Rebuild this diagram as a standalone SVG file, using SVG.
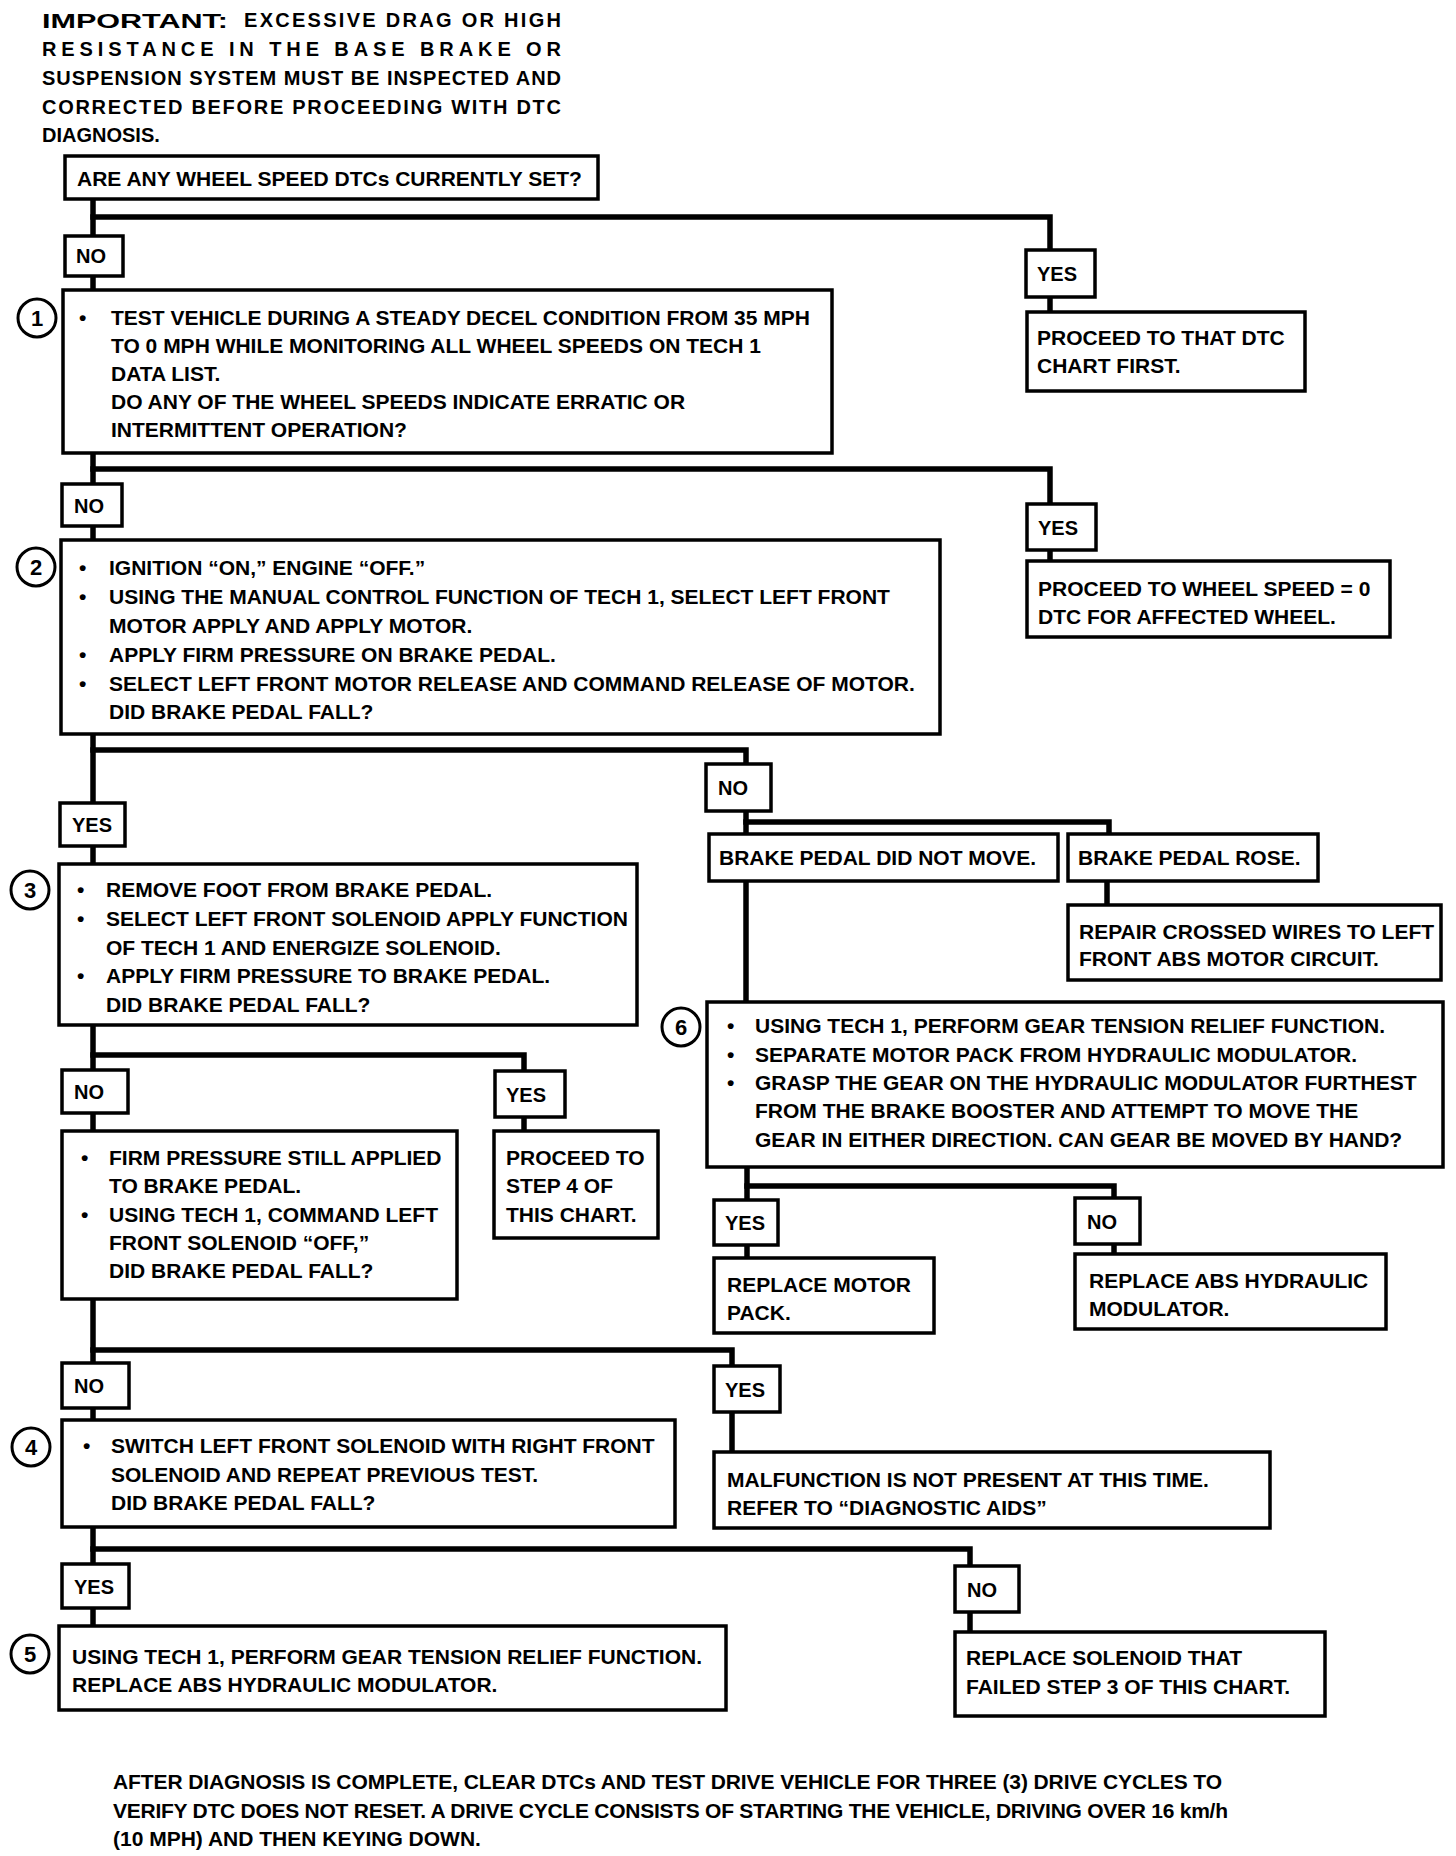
<svg xmlns="http://www.w3.org/2000/svg" width="1456" height="1856" viewBox="0 0 1456 1856">
<style>
.bg{fill:#fff}
.box{fill:#fff;stroke:#000;stroke-width:3.5}
.conn{fill:none;stroke:#000;stroke-width:5.5;stroke-linecap:square;stroke-linejoin:miter}
.num{fill:#fff;stroke:#000;stroke-width:3}
.t{font-family:"Liberation Sans",Arial,sans-serif;font-weight:bold;font-size:21px;fill:#000}
.tp{font-family:"Liberation Sans",Arial,sans-serif;font-weight:bold;font-size:20px;fill:#000}
.l{font-family:"Liberation Sans",Arial,sans-serif;font-weight:bold;font-size:20px;fill:#000}
.n{font-family:"Liberation Sans",Arial,sans-serif;font-weight:bold;font-size:22px;fill:#000;text-anchor:middle}
</style>
<rect class="bg" x="0" y="0" width="1456" height="1856"/>

<g id="note-top">
<text class="t" x="42" y="28" font-size="28" textLength="186" lengthAdjust="spacingAndGlyphs">IMPORTANT:</text>
<text class="tp" x="244" y="27" textLength="317" lengthAdjust="spacing">EXCESSIVE DRAG OR HIGH</text>
<text class="tp" x="42" y="56" textLength="519" lengthAdjust="spacing">RESISTANCE IN THE BASE BRAKE OR</text>
<text class="tp" x="42" y="85" textLength="519" lengthAdjust="spacing">SUSPENSION SYSTEM MUST BE INSPECTED AND</text>
<text class="tp" x="42" y="114" textLength="519" lengthAdjust="spacing">CORRECTED BEFORE PROCEEDING WITH DTC</text>
<text class="tp" x="42" y="142">DIAGNOSIS.</text>
</g>

<g id="connectors">
<path class="conn" d="M93 199 V236"/>
<path class="conn" d="M93 217 H1050 V250"/>
<path class="conn" d="M1050 297 V312"/>
<path class="conn" d="M93 276 V290"/>
<path class="conn" d="M93 453 V484"/>
<path class="conn" d="M93 469 H1050 V504"/>
<path class="conn" d="M1050 550 V561"/>
<path class="conn" d="M93 526 V540"/>
<path class="conn" d="M93 734 V803"/>
<path class="conn" d="M93 750 H746 V764"/>
<path class="conn" d="M746 811 V834"/>
<path class="conn" d="M746 822 H1109 V834"/>
<path class="conn" d="M1107 881 V905"/>
<path class="conn" d="M746 881 V1002"/>
<path class="conn" d="M747 1167 V1200"/>
<path class="conn" d="M747 1186 H1114 V1198"/>
<path class="conn" d="M747 1245 V1258"/>
<path class="conn" d="M1114 1244 V1254"/>
<path class="conn" d="M93 846 V864"/>
<path class="conn" d="M93 1025 V1070"/>
<path class="conn" d="M93 1055 H524 V1071"/>
<path class="conn" d="M524 1117 V1131"/>
<path class="conn" d="M93 1113 V1131"/>
<path class="conn" d="M93 1299 V1363"/>
<path class="conn" d="M93 1350 H732 V1366"/>
<path class="conn" d="M732 1412 V1452"/>
<path class="conn" d="M93 1408 V1420"/>
<path class="conn" d="M93 1527 V1564"/>
<path class="conn" d="M93 1549 H970 V1566"/>
<path class="conn" d="M970 1612 V1632"/>
<path class="conn" d="M93 1608 V1626"/>
</g>

<g id="q0">
<rect class="box" x="65" y="156" width="533" height="43"/>
<text class="t" x="77" y="186">ARE ANY WHEEL SPEED DTCs CURRENTLY SET?</text>
</g>

<g id="no1"><rect class="box" x="65" y="236" width="58" height="40"/><text class="l" x="76" y="263">NO</text></g>
<g id="yes1"><rect class="box" x="1026" y="250" width="69" height="47"/><text class="l" x="1037" y="281">YES</text></g>
<g id="r1">
<rect class="box" x="1027" y="312" width="278" height="79"/>
<text class="t" x="1037" y="345">PROCEED TO THAT DTC</text>
<text class="t" x="1037" y="373">CHART FIRST.</text>
</g>

<g id="step1">
<rect class="box" x="63" y="290" width="769" height="163"/>
<circle class="num" cx="37" cy="318" r="19"/><text class="n" x="37" y="326">1</text>
<text class="t" x="79" y="325">•</text>
<text class="t" x="111" y="325">TEST VEHICLE DURING A STEADY DECEL CONDITION FROM 35 MPH</text>
<text class="t" x="111" y="353">TO 0 MPH WHILE MONITORING ALL WHEEL SPEEDS ON TECH 1</text>
<text class="t" x="111" y="381">DATA LIST.</text>
<text class="t" x="111" y="409">DO ANY OF THE WHEEL SPEEDS INDICATE ERRATIC OR</text>
<text class="t" x="111" y="437">INTERMITTENT OPERATION?</text>
</g>

<g id="no2"><rect class="box" x="62" y="484" width="60" height="42"/><text class="l" x="74" y="513">NO</text></g>
<g id="yes2"><rect class="box" x="1027" y="504" width="69" height="46"/><text class="l" x="1038" y="535">YES</text></g>
<g id="r2">
<rect class="box" x="1027" y="561" width="363" height="76"/>
<text class="t" x="1038" y="596">PROCEED TO WHEEL SPEED = 0</text>
<text class="t" x="1038" y="624">DTC FOR AFFECTED WHEEL.</text>
</g>

<g id="step2">
<rect class="box" x="61" y="540" width="879" height="194"/>
<circle class="num" cx="36" cy="567" r="19"/><text class="n" x="36" y="575">2</text>
<text class="t" x="79" y="575">•</text>
<text class="t" x="109" y="575">IGNITION “ON,” ENGINE “OFF.”</text>
<text class="t" x="79" y="604">•</text>
<text class="t" x="109" y="604">USING THE MANUAL CONTROL FUNCTION OF TECH 1, SELECT LEFT FRONT</text>
<text class="t" x="109" y="633">MOTOR APPLY AND APPLY MOTOR.</text>
<text class="t" x="79" y="662">•</text>
<text class="t" x="109" y="662">APPLY FIRM PRESSURE ON BRAKE PEDAL.</text>
<text class="t" x="79" y="691">•</text>
<text class="t" x="109" y="691">SELECT LEFT FRONT MOTOR RELEASE AND COMMAND RELEASE OF MOTOR.</text>
<text class="t" x="109" y="719">DID BRAKE PEDAL FALL?</text>
</g>

<g id="yes3"><rect class="box" x="60" y="803" width="65" height="43"/><text class="l" x="72" y="832">YES</text></g>
<g id="no3"><rect class="box" x="706" y="764" width="65" height="47"/><text class="l" x="718" y="795">NO</text></g>
<g id="notmove">
<rect class="box" x="709" y="834" width="349" height="47"/>
<text class="t" x="719" y="865">BRAKE PEDAL DID NOT MOVE.</text>
</g>
<g id="rose">
<rect class="box" x="1068" y="834" width="250" height="47"/>
<text class="t" x="1078" y="865">BRAKE PEDAL ROSE.</text>
</g>
<g id="repair">
<rect class="box" x="1068" y="905" width="373" height="75"/>
<text class="t" x="1079" y="939">REPAIR CROSSED WIRES TO LEFT</text>
<text class="t" x="1079" y="966">FRONT ABS MOTOR CIRCUIT.</text>
</g>

<g id="step3">
<rect class="box" x="59" y="864" width="578" height="161"/>
<circle class="num" cx="30" cy="890" r="19"/><text class="n" x="30" y="898">3</text>
<text class="t" x="77" y="897">•</text>
<text class="t" x="106" y="897">REMOVE FOOT FROM BRAKE PEDAL.</text>
<text class="t" x="77" y="926">•</text>
<text class="t" x="106" y="926">SELECT LEFT FRONT SOLENOID APPLY FUNCTION</text>
<text class="t" x="106" y="955">OF TECH 1 AND ENERGIZE SOLENOID.</text>
<text class="t" x="77" y="983">•</text>
<text class="t" x="106" y="983">APPLY FIRM PRESSURE TO BRAKE PEDAL.</text>
<text class="t" x="106" y="1012">DID BRAKE PEDAL FALL?</text>
</g>

<g id="step6">
<rect class="box" x="707" y="1002" width="736" height="165"/>
<circle class="num" cx="681" cy="1027" r="19"/><text class="n" x="681" y="1035">6</text>
<text class="t" x="727" y="1033">•</text>
<text class="t" x="755" y="1033">USING TECH 1, PERFORM GEAR TENSION RELIEF FUNCTION.</text>
<text class="t" x="727" y="1062">•</text>
<text class="t" x="755" y="1062">SEPARATE MOTOR PACK FROM HYDRAULIC MODULATOR.</text>
<text class="t" x="727" y="1090">•</text>
<text class="t" x="755" y="1090">GRASP THE GEAR ON THE HYDRAULIC MODULATOR FURTHEST</text>
<text class="t" x="755" y="1118">FROM THE BRAKE BOOSTER AND ATTEMPT TO MOVE THE</text>
<text class="t" x="755" y="1147">GEAR IN EITHER DIRECTION.  CAN GEAR BE MOVED BY HAND?</text>
</g>

<g id="yes7"><rect class="box" x="714" y="1200" width="64" height="45"/><text class="l" x="725" y="1230">YES</text></g>
<g id="no7"><rect class="box" x="1075" y="1198" width="65" height="46"/><text class="l" x="1087" y="1229">NO</text></g>
<g id="motorpack">
<rect class="box" x="714" y="1258" width="220" height="75"/>
<text class="t" x="727" y="1292">REPLACE MOTOR</text>
<text class="t" x="727" y="1320">PACK.</text>
</g>
<g id="replabs">
<rect class="box" x="1075" y="1254" width="311" height="75"/>
<text class="t" x="1089" y="1288">REPLACE ABS HYDRAULIC</text>
<text class="t" x="1089" y="1316">MODULATOR.</text>
</g>

<g id="no4"><rect class="box" x="62" y="1070" width="66" height="43"/><text class="l" x="74" y="1099">NO</text></g>
<g id="yes4"><rect class="box" x="495" y="1071" width="70" height="46"/><text class="l" x="506" y="1102">YES</text></g>
<g id="firm">
<rect class="box" x="62" y="1131" width="395" height="168"/>
<text class="t" x="81" y="1165">•</text>
<text class="t" x="109" y="1165">FIRM PRESSURE STILL APPLIED</text>
<text class="t" x="109" y="1193">TO BRAKE PEDAL.</text>
<text class="t" x="81" y="1222">•</text>
<text class="t" x="109" y="1222">USING TECH 1, COMMAND LEFT</text>
<text class="t" x="109" y="1250">FRONT SOLENOID “OFF,”</text>
<text class="t" x="109" y="1278">DID BRAKE PEDAL FALL?</text>
</g>
<g id="step4ref">
<rect class="box" x="494" y="1131" width="164" height="107"/>
<text class="t" x="506" y="1165">PROCEED TO</text>
<text class="t" x="506" y="1193">STEP 4 OF</text>
<text class="t" x="506" y="1222">THIS CHART.</text>
</g>

<g id="no5"><rect class="box" x="62" y="1363" width="67" height="45"/><text class="l" x="74" y="1393">NO</text></g>
<g id="yes5"><rect class="box" x="714" y="1366" width="66" height="46"/><text class="l" x="725" y="1397">YES</text></g>
<g id="malf">
<rect class="box" x="714" y="1452" width="556" height="76"/>
<text class="t" x="727" y="1487">MALFUNCTION IS NOT PRESENT AT THIS TIME.</text>
<text class="t" x="727" y="1515">REFER TO “DIAGNOSTIC AIDS”</text>
</g>

<g id="step4">
<rect class="box" x="62" y="1420" width="613" height="107"/>
<circle class="num" cx="31" cy="1447" r="19"/><text class="n" x="31" y="1455">4</text>
<text class="t" x="83" y="1453">•</text>
<text class="t" x="111" y="1453">SWITCH LEFT FRONT SOLENOID WITH RIGHT FRONT</text>
<text class="t" x="111" y="1482">SOLENOID AND REPEAT PREVIOUS TEST.</text>
<text class="t" x="111" y="1510">DID BRAKE PEDAL FALL?</text>
</g>

<g id="yes6"><rect class="box" x="62" y="1564" width="67" height="44"/><text class="l" x="74" y="1594">YES</text></g>
<g id="no6"><rect class="box" x="955" y="1566" width="64" height="46"/><text class="l" x="967" y="1597">NO</text></g>
<g id="step5">
<rect class="box" x="59" y="1626" width="667" height="84"/>
<circle class="num" cx="30" cy="1654" r="19"/><text class="n" x="30" y="1662">5</text>
<text class="t" x="72" y="1664">USING TECH 1, PERFORM GEAR TENSION RELIEF FUNCTION.</text>
<text class="t" x="72" y="1692">REPLACE ABS HYDRAULIC MODULATOR.</text>
</g>
<g id="replsol">
<rect class="box" x="955" y="1632" width="370" height="84"/>
<text class="t" x="966" y="1665">REPLACE SOLENOID THAT</text>
<text class="t" x="966" y="1694">FAILED STEP 3 OF THIS CHART.</text>
</g>

<g id="note-bottom">
<text class="t" x="113" y="1789" textLength="1109" lengthAdjust="spacing">AFTER DIAGNOSIS IS COMPLETE, CLEAR DTCs AND TEST DRIVE VEHICLE FOR THREE (3) DRIVE CYCLES TO</text>
<text class="t" x="113" y="1818" textLength="1115" lengthAdjust="spacing">VERIFY DTC DOES NOT RESET.  A DRIVE CYCLE CONSISTS OF STARTING THE VEHICLE, DRIVING OVER 16 km/h</text>
<text class="t" x="113" y="1846">(10 MPH) AND THEN KEYING DOWN.</text>
</g>
</svg>
